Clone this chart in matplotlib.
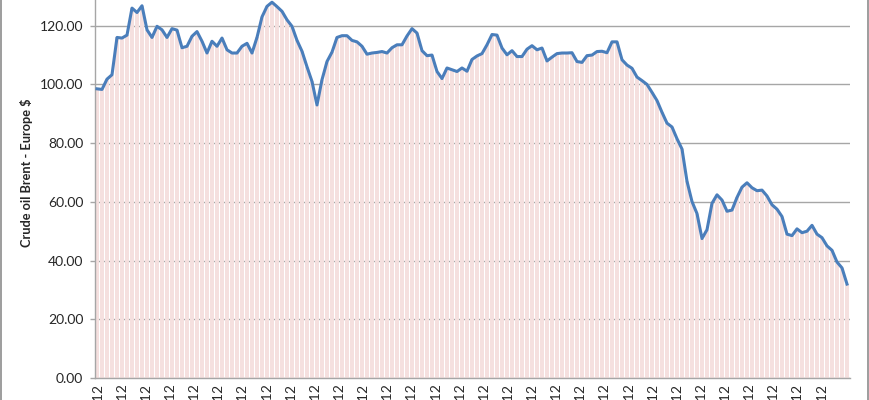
import numpy as np
import matplotlib
matplotlib.use("Agg")
import matplotlib.pyplot as plt
from matplotlib.patches import Rectangle

# Brent crude oil price (USD), sampled across the chart, left to right
brent = [
    98.5, 98.3, 101.8, 103.3, 116.0, 115.8, 116.8, 126.0, 124.5, 126.8,
    118.6, 116.0, 119.8, 118.6, 116.0, 119.0, 118.5, 112.5, 113.0, 116.4,
    118.0, 114.7, 110.7, 114.7, 113.0, 115.8, 111.8, 110.7, 110.7, 113.0,
    114.0, 110.7, 116.0, 123.0, 126.6, 128.0, 126.5, 124.9, 122.0, 119.8,
    115.0, 111.3, 106.0, 101.0, 93.0, 101.6, 107.8, 111.0, 116.0, 116.6,
    116.6, 115.0, 114.5, 113.0, 110.3, 110.7, 110.9, 111.2, 110.7, 112.5,
    113.5, 113.5, 116.5, 119.0, 117.5, 111.5, 109.8, 110.0, 104.4, 102.0,
    105.6, 105.0, 104.4, 105.6, 104.5, 108.5, 109.7, 110.5, 113.5, 117.0,
    116.8, 112.4, 110.1, 111.5, 109.5, 109.5, 112.0, 113.2, 111.8, 112.4,
    108.0, 109.3, 110.5, 110.7, 110.7, 110.8, 107.8, 107.5, 109.8, 110.0,
    111.2, 111.3, 110.8, 114.5, 114.5, 108.4, 106.6, 105.5, 102.5, 101.3,
    100.0, 97.3, 94.5, 90.5, 86.8, 85.5, 81.5, 78.0, 67.0, 60.1,
    56.0, 47.5, 50.5, 59.5, 62.4, 60.6, 56.8, 57.2, 61.5, 65.0,
    66.5, 64.8, 63.8, 64.0, 62.0, 59.0, 57.5, 55.0, 49.0, 48.5,
    50.8, 49.5, 50.0, 52.0, 49.0, 47.8, 45.0, 43.5, 39.5, 37.5,
    32.0,
]

# Category tick labels (only their last characters are visible in the chart)
x_labels = [
    "2011-01-12", "2011-03-12", "2011-05-12", "2011-07-12", "2011-09-12", "2011-11-12",
    "2012-01-12", "2012-03-12", "2012-05-12", "2012-07-12", "2012-09-12", "2012-11-12",
    "2013-01-12", "2013-03-12", "2013-05-12", "2013-07-12", "2013-09-12", "2013-11-12",
    "2014-01-12", "2014-03-12", "2014-05-12", "2014-07-12", "2014-09-12", "2014-11-12",
    "2015-01-12", "2015-03-12", "2015-05-12", "2015-07-12", "2015-09-12", "2015-11-12",
    "2016-01-12",
]

y_ticks = [0, 20, 40, 60, 80, 100, 120, 140]
y_label = "Crude oil Brent - Europe $"

plt.rcParams["font.family"] = ["Lato", "DejaVu Sans"]

fig = plt.figure(figsize=(8.7, 4.0), dpi=100)
ax = fig.add_axes([95 / 870, 22 / 400, 755 / 870, 411 / 400])

x = np.arange(len(brent))
ax.bar(x, brent, width=0.88, color="#f5e0df", edgecolor="none", zorder=1)
ax.plot(x, brent, color="#4a7ebb", linewidth=2.2, solid_joinstyle="round", zorder=3)

ax.set_xlim(-0.4, len(brent) - 0.4)
ax.set_ylim(0, 140)
ax.set_yticks(y_ticks)
ax.set_yticklabels([f"{v:.2f}" for v in y_ticks])

tick_pos = 0.2 + np.arange(len(x_labels)) * 4.826
ax.set_xticks(tick_pos)
ax.set_xticklabels(x_labels, rotation=90, ha="center", va="top")

ax.set_axisbelow(True)
ax.yaxis.grid(True, color="#a6a6a6", linewidth=1.0)
ax.xaxis.grid(False)

for side in ["top", "right"]:
    ax.spines[side].set_visible(False)
for side in ["left", "bottom"]:
    ax.spines[side].set_color("#a6a6a6")
    ax.spines[side].set_linewidth(1.0)

ax.tick_params(axis="y", direction="out", length=3.5, width=1.0, color="#a6a6a6",
               labelsize=10, labelcolor="#262626", pad=5)
ax.tick_params(axis="x", direction="out", length=0, labelsize=10,
               labelcolor="#262626", pad=4)

ax.set_ylabel(y_label, fontsize=9.2, fontweight="bold", color="#262626")
ax.yaxis.set_label_coords(-0.082, 0.5)

fig.patches.append(Rectangle((1.5 / 870, -0.05), 866.5 / 870, 1.1, transform=fig.transFigure,
                             fill=False, edgecolor="#8c8c8c", linewidth=1.2, zorder=10))

fig.savefig("out.png", dpi=100)
